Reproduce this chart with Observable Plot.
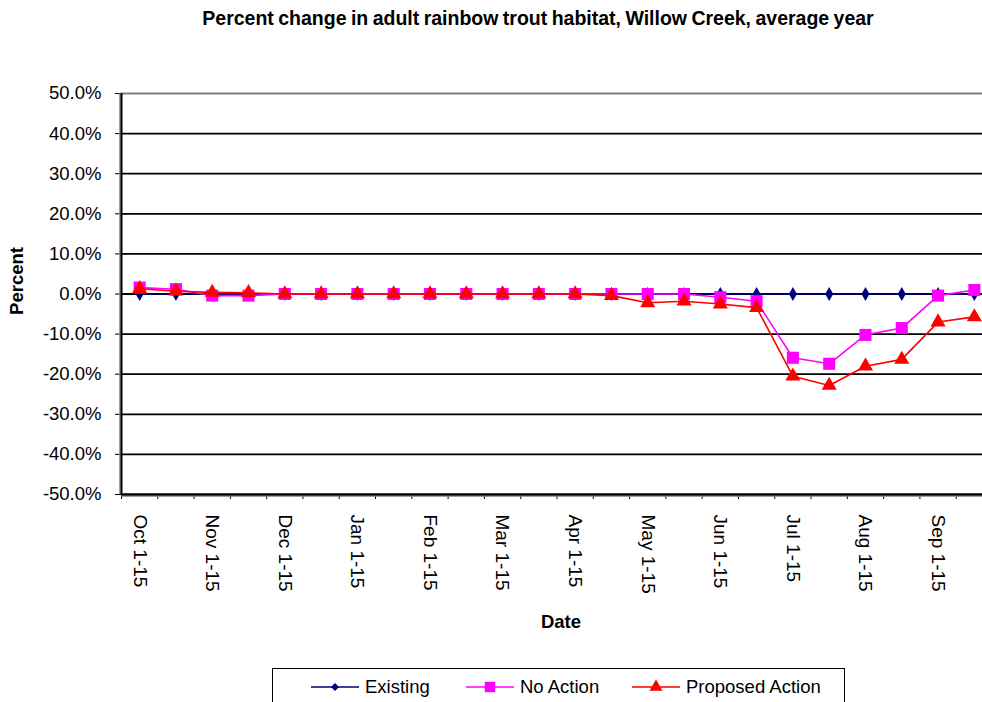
<!DOCTYPE html>
<html><head><meta charset="utf-8">
<script src="https://cdn.jsdelivr.net/npm/d3@7"></script>
<script src="https://cdn.jsdelivr.net/npm/@observablehq/plot@0.6"></script>
<style>
html,body{margin:0;padding:0;background:#fff;overflow:hidden;width:982px;height:702px}
body{position:relative;font-family:"Liberation Sans",Arial,sans-serif;color:#000}
#title{position:absolute;left:538px;top:7px;transform:translateX(-50%);white-space:nowrap;font-weight:bold;font-size:19.5px;letter-spacing:0;word-spacing:-1px}
#chart{position:absolute;left:0;top:0}
#chart svg{max-width:none !important}
#legend{position:absolute;left:272px;top:668px;width:573px;height:40px;border:1px solid #000;box-sizing:border-box;background:#fff}
.item{position:absolute;top:7px;display:flex;align-items:center;font-size:18.5px;white-space:nowrap;line-height:22px}
.item svg{margin-right:6px}
</style></head>
<body>
<div id="title">Percent change in adult rainbow trout habitat, Willow Creek, average year</div>
<div id="chart"></div>
<div id="legend"></div>
<script>
const periods = ["Oct 1-15","Oct 16-31","Nov 1-15","Nov 16-30","Dec 1-15","Dec 16-31","Jan 1-15","Jan 16-31","Feb 1-15","Feb 16-28","Mar 1-15","Mar 16-31","Apr 1-15","Apr 16-30","May 1-15","May 16-31","Jun 1-15","Jun 16-30","Jul 1-15","Jul 16-31","Aug 1-15","Aug 16-31","Sep 1-15","Sep 16-30"];
const existing = [0,0,0,0,0,0,0,0,0,0,0,0,0,0,0,0,0,0,0,0,0,0,0,0];
const noAction = [1.6,1.2,-0.4,-0.4,0,0,0,0,0,0,0,0,0,0,0,0,-0.8,-1.8,-15.9,-17.4,-10.2,-8.5,-0.4,1.0];
const proposed = [1.3,0.7,0.4,0.3,0,0,0,0,0,0,0,0,0,-0.4,-2.2,-1.8,-2.5,-3.4,-20.5,-22.8,-18.0,-16.3,-7.0,-5.7];
const yTicks = [-50,-40,-30,-20,-10,0,10,20,30,40,50];
const seriesNames = ["Existing","No Action","Proposed Action"];
const colors = ["#000080","#FF00FF","#FF0000"];
const symbols = ["diamond","square","triangle"];
const radii = [4.2,6.8,5.6];

const series = [existing, noAction, proposed];
const rows = series.flatMap((vals, s) => vals.map((v, i) => ({series: seriesNames[s], pos: i + 0.5, period: periods[i], value: v})));
const labelPos = periods.map((p, i) => i + 0.5).filter((d, i) => i % 2 === 0);
const boundaries = d3.range(0, periods.length + 1);

const marks = [
  Plot.ruleY(yTicks.filter(d => d < 50), {y: d => d, stroke: "#000", strokeWidth: 1.8}),
  Plot.ruleY([50], {stroke: "#808080", strokeWidth: 2}),
  Plot.axisY({ticks: yTicks, tickFormat: d => d.toFixed(1) + "%", tickSize: 6, tickPadding: 14, fontSize: 18.5, label: null, stroke: "#000"}),
  Plot.axisX({ticks: boundaries, tickFormat: () => "", tickSize: 5, label: null, stroke: "#000"}),
  Plot.axisX({ticks: labelPos, tickFormat: d => periods[d - 0.5], tickSize: 0, tickPadding: 20, tickRotate: 90, fontSize: 19, label: null}),
  Plot.ruleX([0], {stroke: "#808080", strokeWidth: 1.5, dx: -1.5}),
  Plot.ruleX([0], {stroke: "#000", strokeWidth: 2}),
  Plot.ruleY([-50], {stroke: "#808080", strokeWidth: 1.5, dy: 1.5}),
  Plot.ruleY([-50], {stroke: "#000", strokeWidth: 2})
];
seriesNames.forEach((name, s) => {
  const data = rows.filter(r => r.series === name);
  marks.push(Plot.line(data, {x: "pos", y: "value", stroke: colors[s], strokeWidth: 1.6}));
  marks.push(Plot.dot(data, {x: "pos", y: "value", symbol: symbols[s], fill: colors[s], stroke: "none", r: radii[s]}));
});
marks.push(Plot.text(["Percent"], {frameAnchor: "left", textAnchor: "middle", lineAnchor: "middle", dx: -104, rotate: -90, text: d => d, fontWeight: "bold", fontSize: 18.5, dy: -13}));
marks.push(Plot.text(["Date"], {frameAnchor: "bottom", lineAnchor: "middle", dy: 128, text: d => d, fontWeight: "bold", fontSize: 18.5, dx: 4}));

const chart = Plot.plot({
  width: 992,
  height: 702,
  marginTop: 93,
  marginBottom: 208,
  marginLeft: 121,
  marginRight: 0,
  style: {fontFamily: "Liberation Sans, Arial, sans-serif", color: "#000", background: "transparent", overflow: "visible", maxWidth: "none"},
  x: {type: "linear", domain: [0, periods.length]},
  y: {domain: [-50, 50]},
  marks
});
document.getElementById("chart").appendChild(chart);

const legend = document.getElementById("legend");
const lefts = [38, 193, 359];
seriesNames.forEach((name, s) => {
  const div = document.createElement("div");
  div.className = "item";
  div.style.left = lefts[s] + "px";
  const sw = d3.create("svg").attr("width", 48).attr("height", 14);
  sw.append("line").attr("x1", 0).attr("x2", 48).attr("y1", 7).attr("y2", 7).attr("stroke", colors[s]).attr("stroke-width", 1.6);
  const sym = {diamond: d3.symbolDiamond2, square: d3.symbolSquare, triangle: d3.symbolTriangle}[symbols[s]];
  sw.append("path").attr("transform", "translate(24,7)").attr("d", d3.symbol(sym, Math.PI * radii[s] * radii[s] * 0.75)()).attr("fill", colors[s]);
  div.appendChild(sw.node());
  const t = document.createElement("span");
  t.textContent = name;
  div.appendChild(t);
  legend.appendChild(div);
});
</script>
</body></html>
